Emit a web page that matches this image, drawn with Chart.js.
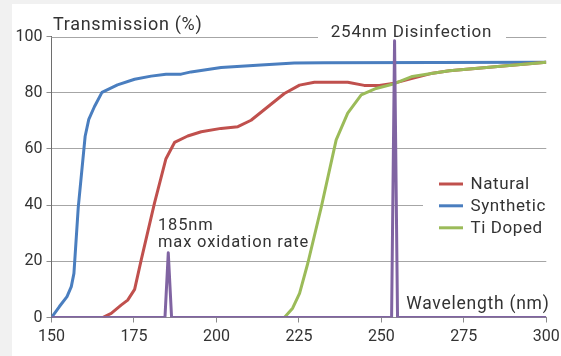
<!DOCTYPE html>
<html><head><meta charset="utf-8">
<script src="https://cdn.jsdelivr.net/npm/chart.js@4/dist/chart.umd.min.js"></script>
<style>html,body{margin:0;padding:0;background:#f1f1f1;}canvas{display:block;}</style>
</head><body>
<canvas id="c" width="561" height="356"></canvas>
<script>
// ---- data ----
const xTickValues = [150, 175, 200, 225, 250, 275, 300];
const yTickValues = [0, 20, 40, 60, 80, 100];

const seriesNames = ["Natural", "Synthetic", "Ti Doped"];

const naturalWl = [165.5, 168.1, 171.1, 173.1, 175.2, 177.2, 181.2, 184.7, 187.3, 191.3, 195.4, 201.4, 206.5, 210.5, 215.6, 220.6, 225.2, 229.7, 239.8, 244.8, 249.4, 253.9, 259.4, 265.0, 270.6, 300];
const naturalT  = [0, 1.5, 4.4, 6.2, 10.0, 20.5, 40.6, 56.5, 62.3, 64.6, 66.1, 67.3, 67.9, 70.2, 75.0, 79.7, 82.7, 83.7, 83.7, 82.6, 82.6, 83.4, 85.1, 86.8, 87.8, 90.8];

const syntheticWl = [150, 152.4, 154.7, 156.0, 156.8, 158.1, 160.2, 161.3, 163.0, 165.3, 170.0, 175.2, 180.2, 184.7, 189.3, 192.3, 201.4, 213.5, 223.6, 232.7, 300];
const syntheticT  = [0, 3.9, 7.4, 11.0, 15.7, 39.0, 64.5, 70.5, 75.0, 80.1, 82.8, 84.8, 85.9, 86.6, 86.6, 87.4, 89.0, 89.9, 90.6, 90.7, 90.8];

const tiDopedWl = [220.6, 223.1, 225.2, 227.7, 231.8, 236.3, 239.8, 243.9, 248.4, 253.9, 259.4, 265.6, 270.6, 300];
const tiDopedT  = [0, 3.3, 8.6, 19.3, 39.4, 63.2, 72.7, 79.2, 81.5, 83.2, 85.8, 86.9, 87.8, 90.8];

const lampWl = [150, 184.4, 185.4, 186.4, 253.1, 254.0, 254.9, 300];
const lampT  = [0, 0, 23, 0, 0, 98.5, 0, 0];

// ---- styling ----
const C_RED = "#c0504d", C_BLUE = "#4a7ebf", C_GREEN = "#9bbb59", C_PURPLE = "#8064a2";
const TXT = "#333333", FONT = "Roboto, 'Open Sans', sans-serif";
const colors = [C_RED, C_BLUE, C_GREEN];

const pts = (xs, ys) => xs.map((x, i) => ({x: x, y: ys[i]}));

function txt(ctx, s, x, y, size, spacing, align) {
  ctx.font = size + "px " + FONT;
  ctx.letterSpacing = spacing + "px";
  ctx.textAlign = align;
  ctx.fillText(s, x, y);
}

const bgPlugin = {
  id: "bg",
  beforeDraw(chart) {
    const ctx = chart.ctx;
    ctx.save();
    ctx.fillStyle = "#f1f1f1";
    ctx.fillRect(0, 0, chart.width, chart.height);
    ctx.fillStyle = "#ffffff";
    ctx.fillRect(12, 4, chart.width - 12, chart.height - 4);
    ctx.restore();
  },
  beforeDatasetsDraw(chart) {
    const ctx = chart.ctx, a = chart.chartArea, y = chart.scales.y;
    const yTop = Math.round(y.getPixelForValue(100)) + 0.5;
    ctx.save();
    ctx.strokeStyle = "#a6a6a6"; ctx.lineWidth = 1;
    ctx.beginPath();
    ctx.moveTo(a.left, yTop); ctx.lineTo(318, yTop);
    ctx.moveTo(506, yTop); ctx.lineTo(a.right, yTop);
    ctx.stroke();
    // legend box (white background covering the grid)
    ctx.fillStyle = "#ffffff";
    ctx.fillRect(423, 172, a.right - 423 + 2, 68);
    const rows = [184, 205.8, 227.8];
    seriesNames.forEach((n, i) => {
      ctx.strokeStyle = colors[i]; ctx.lineWidth = 3;
      ctx.beginPath(); ctx.moveTo(439, rows[i]); ctx.lineTo(463, rows[i]); ctx.stroke();
      ctx.fillStyle = TXT; ctx.textBaseline = "middle";
      txt(ctx, n, 470.5, rows[i] + 0.5, 17, 0.6, "left");
    });
    ctx.restore();
  },
  afterDraw(chart) {
    const ctx = chart.ctx;
    ctx.save();
    ctx.fillStyle = TXT;
    ctx.textBaseline = "alphabetic";
    txt(ctx, "Transmission (%)", 53, 30, 18, 0.7, "left");
    txt(ctx, "254nm Disinfection", 411.5, 36.5, 17, 0.8, "center");
    txt(ctx, "185nm", 158, 230, 16.5, 0.8, "left");
    txt(ctx, "max oxidation rate", 158, 246.5, 16.5, 0.85, "left");
    txt(ctx, "Wavelength (nm)", 549.5, 309, 17.5, 0.75, "right");
    ctx.restore();
  }
};

const ds = (label, data, color, order) => ({
  label, data, borderColor: color, backgroundColor: color, borderWidth: 3,
  pointRadius: 0, pointHoverRadius: 0, tension: 0, fill: false, order,
  borderJoinStyle: "round"
});

new Chart(document.getElementById("c"), {
  type: "line",
  data: {
    datasets: [
      ds("Lamp", pts(lampWl, lampT), C_PURPLE, 0),
      ds(seriesNames[2], pts(tiDopedWl, tiDopedT), C_GREEN, 1),
      ds(seriesNames[0], pts(naturalWl, naturalT), C_RED, 2),
      ds(seriesNames[1], pts(syntheticWl, syntheticT), C_BLUE, 3)
    ]
  },
  options: {
    responsive: false,
    animation: false,
    devicePixelRatio: 1,
    layout: { padding: { left: 11.5, top: 36.5, right: 14.7, bottom: 0 } },
    plugins: { legend: { display: false }, tooltip: { enabled: false } },
    scales: {
      x: {
        type: "linear", min: 150, max: 300,
        afterBuildTicks: s => { s.ticks = xTickValues.map(v => ({value: v})); },
        afterFit: s => { s.height = 38.5; s.paddingLeft = 0; s.paddingRight = 0; },
        ticks: { color: TXT, font: { family: FONT, size: 16 }, padding: 5, maxRotation: 0 },
        grid: { drawOnChartArea: false, drawTicks: true, tickLength: 5, tickColor: "#8c8c8c" },
        border: { display: true, color: "#8c8c8c" }
      },
      y: {
        min: 0, max: 100,
        afterBuildTicks: s => { s.ticks = yTickValues.map(v => ({value: v})); },
        afterFit: s => { s.width = 40; s.paddingTop = 0; s.paddingBottom = 0; },
        ticks: { color: TXT, font: { family: FONT, size: 16 }, padding: 4 },
        grid: {
          color: c => (c.tick && c.tick.value === 100) ? "rgba(0,0,0,0)" : "#a6a6a6",
          tickColor: "#8c8c8c", tickLength: 5, lineWidth: 1
        },
        border: { display: true, color: "#6e6e6e" }
      }
    }
  },
  plugins: [bgPlugin]
});
</script>
</body></html>
